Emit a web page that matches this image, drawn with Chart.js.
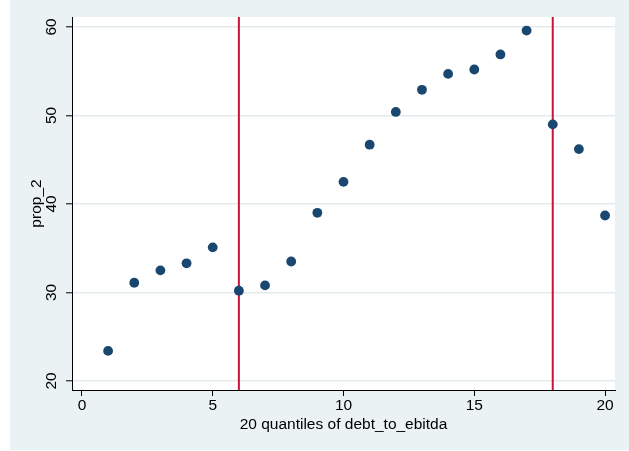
<!DOCTYPE html>
<html>
<head>
<meta charset="utf-8">
<script src="https://cdn.jsdelivr.net/npm/chart.js@4/dist/chart.umd.min.js"></script>
<style>
  html, body { margin: 0; padding: 0; background: #ffffff; }
  #wrap { width: 629px; height: 451px; }
</style>
</head>
<body>
<div id="wrap"><canvas id="chartCanvas"></canvas></div>
<script>
// quantile groups and their prop_2 values
const quantiles = [1, 2, 3, 4, 5, 6, 7, 8, 9, 10, 11, 12, 13, 14, 15, 16, 17, 18, 19, 20];
const prop2 = [23.4, 31.1, 32.5, 33.3, 35.1, 30.2, 30.8, 33.5, 39.0, 42.5,
               46.7, 50.4, 52.9, 54.7, 55.2, 56.9, 59.6, 49.0, 46.2, 38.7];

// reference lines (xline)
const xLines = [6, 18];

// axis ticks and ranges
const xTicks = [0, 5, 10, 15, 20];
const yTicks = [20, 30, 40, 50, 60];
const xRange = [-0.38, 20.38];
const yRange = [18.98, 61.13];

const FONT = "'Liberation Sans', Arial, sans-serif";

const backgroundPlugin = {
    id: 'stataBackground',
    beforeDraw(chart) {
        const ctx = chart.ctx;
        const area = chart.chartArea;
        ctx.save();
        ctx.fillStyle = '#ffffff';
        ctx.fillRect(0, 0, chart.width, chart.height);
        ctx.fillStyle = '#eaf2f3';
        ctx.fillRect(10, 0, chart.width - 10, chart.height - 1);
        ctx.fillStyle = '#ffffff';
        ctx.fillRect(area.left, area.top, area.right - area.left, area.bottom - area.top);
        ctx.restore();
    }
};

function setTicks(values) {
    return function(scale) {
        scale.ticks = values.map(v => ({ value: v }));
    };
}

const pointData = quantiles.map((q, i) => ({ x: q, y: prop2[i] }));

const lineSets = xLines.map(v => ({
    label: 'xline ' + v,
    data: [{ x: v, y: yRange[0] }, { x: v, y: yRange[1] }],
    showLine: true,
    borderColor: '#c8143c',
    borderWidth: 2,
    pointRadius: 0,
    fill: false
}));

const ctx = document.getElementById('chartCanvas').getContext('2d');
const myChart = new Chart(ctx, {
    type: 'scatter',
    data: {
        datasets: [{
            label: 'prop_2',
            data: pointData,
            backgroundColor: '#1a476f',
            borderWidth: 0,
            pointRadius: 4.9,
            pointHoverRadius: 4.9
        }].concat(lineSets)
    },
    options: {
        responsive: true,
        maintainAspectRatio: false,
        animation: false,
        events: [],
        layout: { padding: { left: 0, top: 17, right: 14, bottom: 0 } },
        plugins: {
            legend: { display: false },
            tooltip: { enabled: false }
        },
        scales: {
            x: {
                type: 'linear',
                min: xRange[0],
                max: xRange[1],
                afterBuildTicks: setTicks(xTicks),
                afterFit: scale => { scale.height = 61; },
                border: { display: true, color: '#000000', width: 1 },
                grid: {
                    drawOnChartArea: false,
                    drawTicks: true,
                    tickLength: 6,
                    tickColor: '#000000',
                    tickWidth: 1
                },
                ticks: {
                    padding: 0,
                    color: '#000000',
                    autoSkip: false,
                    maxRotation: 0,
                    font: { family: FONT, size: 15.5 }
                },
                title: {
                    display: true,
                    text: '20 quantiles of debt_to_ebitda',
                    color: '#000000',
                    padding: { top: 0, bottom: 17 },
                    font: { family: FONT, size: 15.5 }
                }
            },
            y: {
                type: 'linear',
                min: yRange[0],
                max: yRange[1],
                afterBuildTicks: setTicks(yTicks),
                afterFit: scale => { scale.width = 72; },
                border: { display: true, color: '#000000', width: 1 },
                grid: {
                    color: '#e3ebee',
                    lineWidth: 1.6,
                    drawTicks: true,
                    tickLength: 6,
                    tickColor: '#000000',
                    tickWidth: 1
                },
                ticks: {
                    padding: 6,
                    color: '#000000',
                    autoSkip: false,
                    minRotation: 90,
                    maxRotation: 90,
                    crossAlign: 'center',
                    font: { family: FONT, size: 15.5 }
                },
                title: {
                    display: true,
                    text: 'prop_2',
                    color: '#000000',
                    padding: { top: 27, bottom: 0 },
                    font: { family: FONT, size: 15.5 }
                }
            }
        }
    },
    plugins: [backgroundPlugin]
});
</script>
</body>
</html>
